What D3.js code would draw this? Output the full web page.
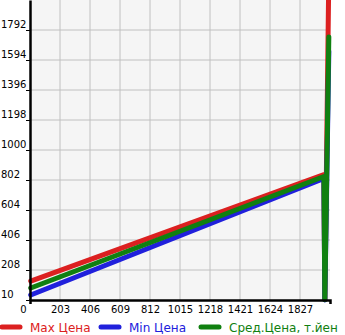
<!doctype html>
<html>
<head>
<meta charset="utf-8">
<script src="https://d3js.org/d3.v7.min.js"></script>
<style>
  body { margin: 0; background: #fff; }
  text { font-family: "DejaVu Sans", sans-serif; }
</style>
</head>
<body>
<svg id="chart" width="345" height="335"></svg>
<script>
// data
var xTicks = [0, 203, 406, 609, 812, 1015, 1218, 1421, 1624, 1827];
var yTicks = [10, 208, 406, 604, 802, 1000, 1198, 1396, 1594, 1792];
var xPos = [5, 1989, 1995, 2022];
var maxPrice = [135, 838, 15, 2150];
var minPrice = [43, 812, 10, 1650];
var avgPrice = [89, 825, 12, 1746];
var seriesNames = ["Max Цена", "Min Цена", "Сред.Цена, т.йен"];
var colors = ["#dc2020", "#2020dc", "#108010"];

var svg = d3.select("#chart");
var x = d3.scaleLinear().domain([0, 2030]).range([30, 330]);
var y = d3.scaleLinear().domain([10, 1990]).range([300, 0]);

// plot background
svg.append("rect")
   .attr("x", x(0)).attr("y", y(1990))
   .attr("width", x(2030) - x(0)).attr("height", y(10) - y(1990))
   .attr("fill", "#f5f5f5");

// grid
svg.append("g").selectAll("line").data(xTicks.slice(1)).enter().append("line")
   .attr("x1", function(d) { return x(d); }).attr("x2", function(d) { return x(d); })
   .attr("y1", y(10)).attr("y2", y(1990))
   .attr("stroke", "#c0c0c0").attr("stroke-width", 1);
svg.append("g").selectAll("line").data(yTicks.slice(1)).enter().append("line")
   .attr("x1", x(0)).attr("x2", x(2030))
   .attr("y1", function(d) { return y(d); }).attr("y2", function(d) { return y(d); })
   .attr("stroke", "#c0c0c0").attr("stroke-width", 1);

// series lines
var line = d3.line()
    .x(function(d) { return x(d[0]); })
    .y(function(d) { return y(d[1]); });
var series = [maxPrice, minPrice, avgPrice];
series.forEach(function(vals, i) {
    svg.append("path")
       .datum(xPos.map(function(xv, j) { return [xv, vals[j]]; }))
       .attr("d", line)
       .attr("fill", "none")
       .attr("stroke", colors[i])
       .attr("stroke-width", 5)
       .attr("stroke-linecap", "round")
       .attr("stroke-linejoin", "round");
});

// y axis
var yAxis = svg.append("g")
   .attr("transform", "translate(" + x(0) + ",0)")
   .call(d3.axisLeft(y).tickValues(yTicks).tickFormat(d3.format("d")).tickSize(4).tickSizeOuter(0));
yAxis.select(".domain").attr("stroke-width", 2.5);
yAxis.selectAll(".tick text")
   .attr("x", -x(0) + 1).attr("dy", "-0.25em")
   .attr("text-anchor", "start")
   .attr("font-size", "10px").attr("font-family", "DejaVu Sans").attr("fill", "#000");

// x axis
var xAxis = svg.append("g")
   .attr("transform", "translate(0," + y(10) + ")")
   .call(d3.axisBottom(x).tickValues(xTicks).tickFormat(d3.format("d")).tickSize(0).tickSizeOuter(4).tickPadding(6));
xAxis.select(".domain").attr("stroke-width", 2.5);
xAxis.selectAll(".tick text")
   .attr("font-size", "10px").attr("font-family", "DejaVu Sans").attr("fill", "#000")
   .attr("dx", function(d) { return d === 0 ? -7 : 0; });

// legend
var legendX = [0, 99, 199];
var legend = svg.append("g").attr("transform", "translate(0,327)");
seriesNames.forEach(function(name, i) {
    legend.append("line")
       .attr("x1", legendX[i] + 2).attr("x2", legendX[i] + 20)
       .attr("y1", 0).attr("y2", 0)
       .attr("stroke", colors[i]).attr("stroke-width", 5)
       .attr("stroke-linecap", "round");
    legend.append("text")
       .attr("x", legendX[i] + 30).attr("y", 5)
       .attr("font-size", "12px")
       .attr("fill", colors[i])
       .text(name);
});
</script>
</body>
</html>
